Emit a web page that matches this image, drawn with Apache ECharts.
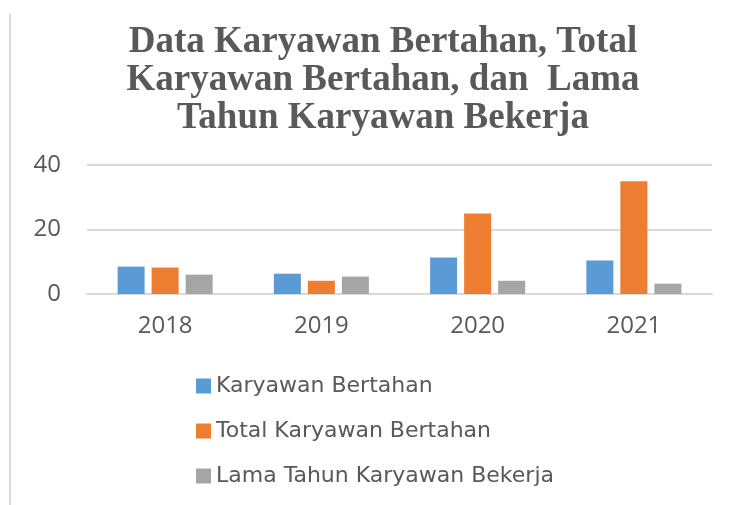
<!DOCTYPE html>
<html>
<head>
<meta charset="utf-8">
<script src="https://cdn.jsdelivr.net/npm/echarts@6/dist/echarts.min.js"></script>
<style>
  html, body { margin: 0; padding: 0; background: #fff; }
  #chart { width: 733px; height: 505px; }
</style>
</head>
<body>
<div id="chart"></div>
<script>
// data
const years = ["2018", "2019", "2020", "2021"];
const karyawanBertahan = [8.5, 6.3, 11.3, 10.4];
const totalKaryawanBertahan = [8.2, 4.1, 25, 35];
const lamaTahunBekerja = [6, 5.4, 4.1, 3.2];
const seriesNames = ["Karyawan Bertahan", "Total Karyawan Bertahan", "Lama Tahun Karyawan Bekerja"];

const textColor = "#595959";
const font = "'Open Sans', sans-serif";

let myChart = echarts.init(document.getElementById("chart"));

let option = {
  animation: false,
  title: {
    text: "Data Karyawan Bertahan, Total\nKaryawan Bertahan, dan  Lama\nTahun Karyawan Bekerja",
    left: 378,
    textAlign: "center",
    top: 18,
    textStyle: {
      color: textColor,
      fontFamily: "'Liberation Serif', 'Times New Roman', serif",
      fontWeight: "bold",
      fontSize: 37,
      lineHeight: 38,
    },
  },
  // 图例
  legend: {
    orient: "vertical",
    left: 191,
    top: 370,
    itemGap: 23,
    itemWidth: 15,
    itemHeight: 15,
    icon: "rect",
    textStyle: { color: textColor, fontSize: 22, fontFamily: "'DejaVu Sans', sans-serif" },
    data: seriesNames,
  },
  grid: {
    left: 87,
    right: 21,
    top: 165,
    height: 129,
    containLabel: false,
  },
  xAxis: {
    type: "category",
    data: years,
    axisLine: { show: true, lineStyle: { color: "#d9d9d9", width: 2 } },
    axisTick: { show: false },
    axisLabel: { color: textColor, fontSize: 24, fontFamily: font, margin: 20 },
  },
  yAxis: {
    type: "value",
    min: 0,
    max: 40,
    interval: 20,
    axisLine: { show: false },
    axisTick: { show: false },
    splitLine: { lineStyle: { color: "#d9d9d9", width: 2 } },
    axisLabel: { color: textColor, fontSize: 24, fontFamily: font, margin: 26 },
  },
  // 左边框
  graphic: [
    {
      type: "line",
      shape: { x1: 10, y1: 14, x2: 10, y2: 505 },
      style: { stroke: "#d9d9d9", lineWidth: 2 },
    },
  ],
  series: [
    {
      name: seriesNames[0],
      type: "bar",
      data: karyawanBertahan,
      barWidth: 27,
      barGap: "26%",
      itemStyle: { color: "#5b9bd5" },
    },
    {
      name: seriesNames[1],
      type: "bar",
      data: totalKaryawanBertahan,
      barWidth: 27,
      barGap: "26%",
      itemStyle: { color: "#ed7d31" },
    },
    {
      name: seriesNames[2],
      type: "bar",
      data: lamaTahunBekerja,
      barWidth: 27,
      barGap: "26%",
      itemStyle: { color: "#a5a5a5" },
    },
  ],
};

option && myChart.setOption(option);
</script>
</body>
</html>
